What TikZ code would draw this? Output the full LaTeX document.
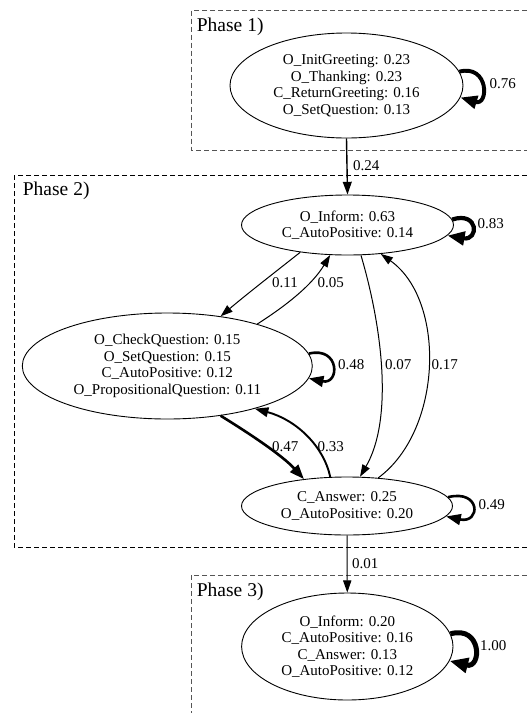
\documentclass[tikz,border=0pt]{standalone}
\usepackage{fontspec}
\setmainfont{Liberation Serif}
\usetikzlibrary{shapes.geometric,arrows.meta}
\definecolor{clgray}{RGB}{85,85,85}
\begin{document}
\begin{tikzpicture}[x=1pt,y=-1pt,
  stbox/.style={draw, ellipse, line width=0.9pt, inner sep=0pt, align=center,
    font=\fontsize{15}{16.5}\selectfont},
  lab/.style={anchor=west, inner sep=0pt, font=\fontsize{15}{18}\selectfont},
  phase/.style={anchor=base west, inner sep=0pt, font=\fontsize{19.5}{24}\selectfont},
  arr/.style={draw, -{Triangle[length=10.5pt 1.6, width=6.6pt 1.6]}},
  cluster/.style={dash pattern=on 5pt off 3pt, line width=0.9pt}
]
\useasboundingbox (0,0) rectangle (527,713);
\fill[white] (0,0) rectangle (527,713);

% clusters
\draw[cluster, draw=clgray] (527,10) -- (191.7,10) -- (191.7,150) -- (527,150);
\draw[cluster, draw=black] (527,175.7) -- (14.3,175.7) -- (14.3,547) -- (527,547);
\draw[cluster, draw=clgray] (527,575) -- (191.2,575) -- (191.2,713);

\node[phase] (p1) at (196.7,31.7) {Phase 1)};
\node[phase] (p2) at (22.7,195) {Phase 2)};
\node[phase] (p3) at (196.7,596) {Phase 3)};

% states
\node[stbox, minimum width=233pt, minimum height=105pt] (e1) at (346.5,85.5)
  {O\_InitGreeting: 0.23\\O\_Thanking: 0.23\\C\_ReturnGreeting: 0.16\\O\_SetQuestion: 0.13};
\node[stbox, minimum width=212pt, minimum height=60pt] (e2) at (347.5,225)
  {O\_Inform: 0.63\\C\_AutoPositive: 0.14};
\node[stbox, minimum width=290pt, minimum height=106pt] (e3) at (167.3,366)
  {O\_CheckQuestion: 0.15\\O\_SetQuestion: 0.15\\C\_AutoPositive: 0.12\\O\_PropositionalQuestion: 0.11};
\node[stbox, minimum width=211pt, minimum height=58pt] (e4) at (347,506)
  {C\_Answer: 0.25\\O\_AutoPositive: 0.20};
\node[stbox, minimum width=211.4pt, minimum height=107pt] (e5) at (347.3,646.5)
  {O\_Inform: 0.20\\C\_AutoPositive: 0.16\\C\_Answer: 0.13\\O\_AutoPositive: 0.12};

% edges
\draw[arr, line width=1.4pt] (e1.south) -- (e2.north);
\node[lab] (l024) at (353,166) {0.24};

\draw[arr, line width=3.9pt] (e1.7) .. controls (489,64) and (489,106) .. (e1.-6.5);
\node[lab] (l076) at (489.5,83.5) {0.76};

\draw[arr, line width=4.2pt] (e2.3) .. controls (479,211) and (479,241) .. (e2.-6);
\node[lab] (l083) at (477.5,224) {0.83};

\draw[arr, line width=1pt] (e2.210) .. controls (274,273) and (247,294) .. (e3.43);
\node[lab] (l011) at (272,283) {0.11};

\draw[arr, line width=1pt] (e3.25) .. controls (287,305) and (312,285) .. (e2.240);
\node[lab] (l005) at (317.5,283) {0.05};

\draw[arr, line width=1pt] (e2.-66) .. controls (383,330) and (393,420) .. (e4.66);
\node[lab] (l007) at (384.8,365) {0.07};

\draw[arr, line width=1pt] (e4.42) .. controls (443,430) and (446,300) .. (e2.-41);
\node[lab] (l017) at (431.4,365) {0.17};

\draw[arr, line width=2.6pt] (e3.5) .. controls (340,346) and (340,385) .. (e3.-5);
\node[lab] (l048) at (338,365) {0.48};

\draw[arr, line width=2.6pt] (e3.-43) .. controls (247,432) and (282,455) .. (e4.148);
\node[lab] (l047) at (272,446.7) {0.47};

\draw[arr, line width=1.9pt] (e4.120) .. controls (324,447) and (297,420) .. (e3.-26);
\node[lab] (l033) at (317.5,446.7) {0.33};

\draw[arr, line width=2.6pt] (e4.5) .. controls (481,489) and (481,524) .. (e4.-6);
\node[lab] (l049) at (478.5,505) {0.49};

\draw[arr, line width=1pt] (e4.south) -- (e5.north);
\node[lab] (l001) at (352,564) {0.01};

\draw[arr, line width=5pt] (e5.7.5) .. controls (482,625) and (482,669) .. (e5.-8.5);
\node[lab] (l100) at (480,645.7) {1.00};
\end{tikzpicture}
\end{document}
